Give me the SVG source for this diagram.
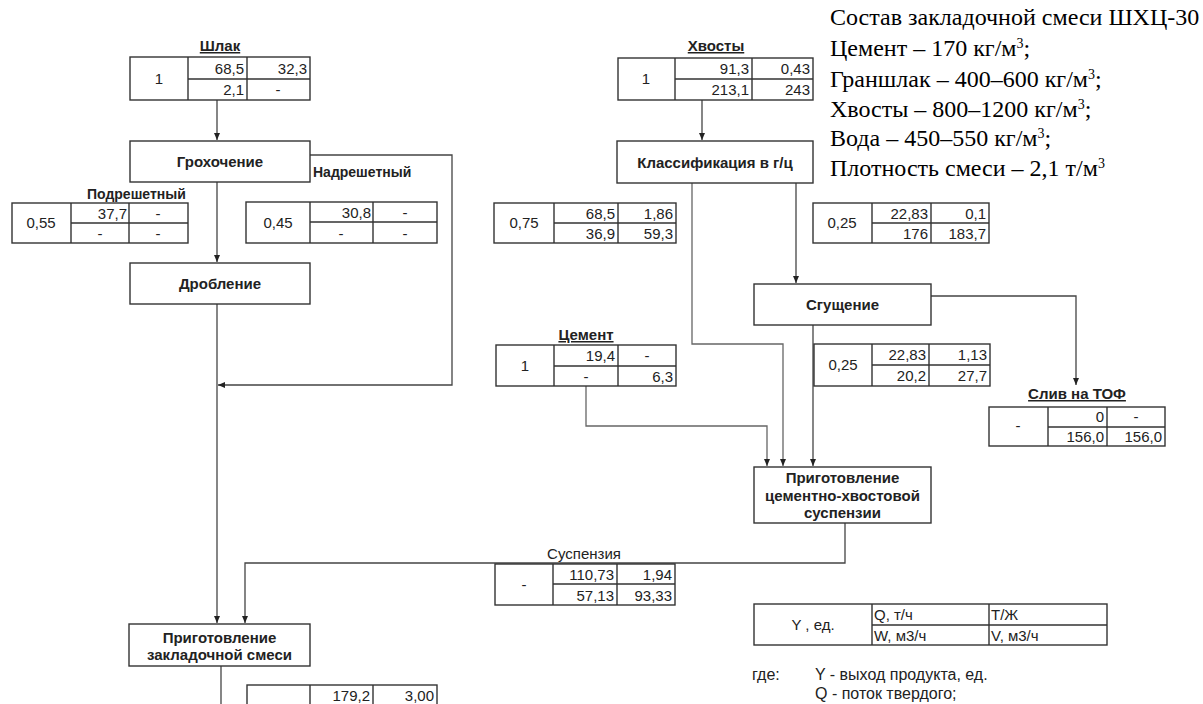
<svg xmlns="http://www.w3.org/2000/svg" width="1203" height="704" viewBox="0 0 1203 704">
<defs>
<marker id="arr" markerWidth="8" markerHeight="8" refX="7" refY="4" orient="auto" markerUnits="userSpaceOnUse"><path d="M0,1 L7,4 L0,7 z" fill="#222"/></marker>
</defs>
<style>
.bx{fill:#fff;stroke:#333;stroke-width:1.4}
.gl{fill:none;stroke:#333;stroke-width:1.4}
.con{fill:none;stroke:#444;stroke-width:1.3}
.lt{stroke:#666}
.b{font-family:"Liberation Sans",Arial,sans-serif;font-weight:bold;font-size:15px;fill:#222;text-anchor:middle}
.u{text-decoration:underline}
.s{font-size:14px;text-anchor:start}
.n{font-family:"Liberation Sans",Arial,sans-serif;font-size:15px;fill:#222;text-anchor:end}
.c{text-anchor:middle}
.l{text-anchor:start}
.g{font-size:16px}
.t{font-family:"Liberation Serif","Times New Roman",serif;font-size:24px;fill:#000}
.sup{font-size:14px}
</style>
<rect width="1203" height="704" fill="#fff"/>

<g id="connectors">
<path class="con" d="M217,100 V140" marker-end="url(#arr)"/>
<path class="con" d="M310,155 H452 V385 H218" marker-end="url(#arr)"/>
<path class="con" d="M217,182 V262" marker-end="url(#arr)"/>
<path class="con" d="M217,304 V623" marker-end="url(#arr)"/>
<path class="con" d="M845,523 V563 H245 V623" marker-end="url(#arr)"/>
<path class="con" d="M221,666 V704"/>
<path class="con" d="M702,100 V140" marker-end="url(#arr)"/>
<path class="con lt" d="M692,183 V344 H783 V466" marker-end="url(#arr)"/>
<path class="con" d="M796,183 V283" marker-end="url(#arr)"/>
<path class="con" d="M931,296 H1076 V385" marker-end="url(#arr)"/>
<path class="con" d="M813,325 V466" marker-end="url(#arr)"/>
<path class="con lt" d="M586,386 V426 H767 V466" marker-end="url(#arr)"/>
</g>

<g id="shlak">
<text class="b u" x="220" y="51">Шлак</text>
<rect class="bx" x="130" y="57" width="180" height="43"/>
<path class="gl" d="M188,57 V100 M247,57 V100 M188,79 H310"/>
<text class="n c" x="159" y="84">1</text>
<text class="n" x="244" y="74">68,5</text><text class="n" x="307" y="74">32,3</text>
<text class="n" x="244" y="95">2,1</text><text class="n c" x="278" y="95">-</text>
</g>

<g id="grokhochenie">
<rect class="bx" x="130" y="141" width="180" height="41"/>
<text class="b" x="220" y="167">Грохочение</text>
</g>
<text class="b s" x="313" y="177">Надрешетный</text>
<text class="b s" x="87" y="199">Подрешетный</text>

<g id="podresh">
<rect class="bx" x="12" y="203" width="176" height="40"/>
<path class="gl" d="M71,203 V243 M129,203 V243 M71,223 H188"/>
<text class="n c" x="41" y="228">0,55</text>
<text class="n" x="127" y="219">37,7</text><text class="n c" x="158" y="219">-</text>
<text class="n c" x="100" y="239">-</text><text class="n c" x="158" y="239">-</text>
</g>

<g id="nadresh">
<rect class="bx" x="246" y="202" width="191" height="41"/>
<path class="gl" d="M310,202 V243 M373,202 V243 M310,222 H437"/>
<text class="n c" x="278" y="228">0,45</text>
<text class="n" x="371" y="218">30,8</text><text class="n c" x="405" y="218">-</text>
<text class="n c" x="341" y="239">-</text><text class="n c" x="405" y="239">-</text>
</g>

<g id="droblenie">
<rect class="bx" x="130" y="263" width="180" height="41"/>
<text class="b" x="220" y="289">Дробление</text>
</g>

<g id="prig-zakl">
<rect class="bx" x="129" y="624" width="181" height="42"/>
<text class="b" x="219.5" y="643">Приготовление</text>
<text class="b" x="219.5" y="660">закладочной смеси</text>
</g>

<g id="itog">
<rect class="bx" x="247" y="685" width="190" height="45"/>
<path class="gl" d="M310,685 V730 M373,685 V730 M310,706 H437"/>
<text class="n" x="370" y="701">179,2</text><text class="n" x="434" y="701">3,00</text>
</g>

<g id="suspenziya">
<text class="n c" x="584" y="559">Суспензия</text>
<rect class="bx" x="495" y="564" width="180" height="41"/>
<path class="gl" d="M553,564 V605 M617,564 V605 M553,584 H675"/>
<text class="n c" x="524" y="590">-</text>
<text class="n" x="614" y="580">110,73</text><text class="n" x="672" y="580">1,94</text>
<text class="n" x="614" y="601">57,13</text><text class="n" x="672" y="601">93,33</text>
</g>

<g id="khvosty">
<text class="b u" x="716" y="51">Хвосты</text>
<rect class="bx" x="618" y="58" width="195" height="42"/>
<path class="gl" d="M675,58 V100 M752,58 V100 M675,79 H813"/>
<text class="n c" x="646" y="84">1</text>
<text class="n" x="749" y="74">91,3</text><text class="n" x="810" y="74">0,43</text>
<text class="n" x="749" y="95">213,1</text><text class="n" x="810" y="95">243</text>
</g>

<g id="klassif">
<rect class="bx" x="617" y="141" width="196" height="42"/>
<text class="b" x="715" y="168">Классификация в г/ц</text>
</g>

<g id="t075">
<rect class="bx" x="494" y="203" width="182" height="40"/>
<path class="gl" d="M554,203 V243 M618,203 V243 M554,223 H676"/>
<text class="n c" x="524" y="228">0,75</text>
<text class="n" x="615" y="219">68,5</text><text class="n" x="673" y="219">1,86</text>
<text class="n" x="615" y="239">36,9</text><text class="n" x="673" y="239">59,3</text>
</g>

<g id="t025a">
<rect class="bx" x="813" y="203" width="176" height="40"/>
<path class="gl" d="M872,203 V243 M931,203 V243 M872,223 H989"/>
<text class="n c" x="842" y="228">0,25</text>
<text class="n" x="928" y="219">22,83</text><text class="n" x="986" y="219">0,1</text>
<text class="n" x="928" y="239">176</text><text class="n" x="986" y="239">183,7</text>
</g>

<g id="sgushchenie">
<rect class="bx" x="754" y="284" width="177" height="41"/>
<text class="b" x="842.5" y="310">Сгущение</text>
</g>

<g id="cement">
<text class="b u" x="586" y="340">Цемент</text>
<rect class="bx" x="496" y="345" width="180" height="41"/>
<path class="gl" d="M554,345 V386 M618,345 V386 M554,366 H676"/>
<text class="n c" x="525" y="371">1</text>
<text class="n" x="615" y="361">19,4</text><text class="n c" x="647" y="361">-</text>
<text class="n c" x="586" y="382">-</text><text class="n" x="673" y="382">6,3</text>
</g>

<g id="t025b">
<rect class="bx" x="814" y="344" width="176" height="42"/>
<path class="gl" d="M872,344 V386 M929,344 V386 M872,365 H990"/>
<text class="n c" x="843" y="370">0,25</text>
<text class="n" x="926" y="360">22,83</text><text class="n" x="987" y="360">1,13</text>
<text class="n" x="926" y="381">20,2</text><text class="n" x="987" y="381">27,7</text>
</g>

<g id="sliv">
<text class="b u" x="1077" y="399">Слив на ТОФ</text>
<rect class="bx" x="989" y="407" width="176" height="39"/>
<path class="gl" d="M1048,407 V446 M1107,407 V446 M1048,427 H1165"/>
<text class="n c" x="1018" y="431">-</text>
<text class="n" x="1104" y="422">0</text><text class="n c" x="1136" y="422">-</text>
<text class="n" x="1104" y="442">156,0</text><text class="n" x="1162" y="442">156,0</text>
</g>

<g id="prig-susp">
<rect class="bx" x="754" y="467" width="177" height="56"/>
<text class="b" x="842.5" y="483">Приготовление</text>
<text class="b" x="842.5" y="501">цементно-хвостовой</text>
<text class="b" x="842.5" y="518">суспензии</text>
</g>

<g id="legend">
<rect class="bx" x="754" y="604" width="353" height="41"/>
<path class="gl" d="M872,604 V645 M989,604 V645 M872,625 H1107"/>
<text class="n c" x="813" y="630">Y , ед.</text>
<text class="n l" x="874" y="620">Q, т/ч</text><text class="n l" x="991" y="620">Т/Ж</text>
<text class="n l" x="874" y="641">W, м3/ч</text><text class="n l" x="991" y="641">V, м3/ч</text>
<text class="n l g" x="752" y="680">где:</text>
<text class="n l g" x="815" y="680">Y - выход продукта, ед.</text>
<text class="n l g" x="815" y="699">Q - поток твердого;</text>
</g>

<g id="sostav">
<text class="t" x="830" y="25">Состав закладочной смеси ШХЦ-30</text>
<text class="t" x="830" y="56">Цемент – 170 кг/м<tspan class="sup" dy="-8">3</tspan><tspan dy="8">;</tspan></text>
<text class="t" x="830" y="87">Граншлак – 400–600 кг/м<tspan class="sup" dy="-8">3</tspan><tspan dy="8">;</tspan></text>
<text class="t" x="830" y="117">Хвосты – 800–1200 кг/м<tspan class="sup" dy="-8">3</tspan><tspan dy="8">;</tspan></text>
<text class="t" x="830" y="146">Вода – 450–550 кг/м<tspan class="sup" dy="-8">3</tspan><tspan dy="8">;</tspan></text>
<text class="t" x="830" y="176">Плотность смеси – 2,1 т/м<tspan class="sup" dy="-8">3</tspan></text>
</g>
</svg>
